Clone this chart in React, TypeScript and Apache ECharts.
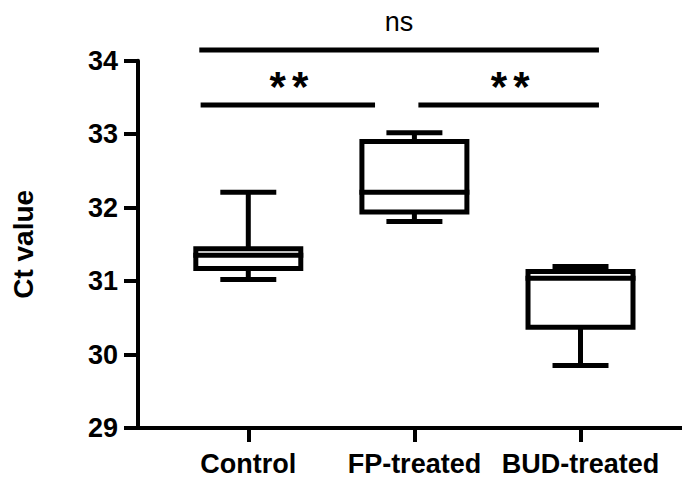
import React, { useEffect, useRef } from "react";
import * as echarts from "echarts";

// ---- data ----
const categories = ["Control", "FP-treated", "BUD-treated"];
// [min, Q1, median, Q3, max]
const controlBox = [31.02, 31.17, 31.35, 31.44, 32.21];
const fpBox = [31.81, 31.94, 32.21, 32.9, 33.02];
const budBox = [29.85, 30.37, 31.04, 31.13, 31.2];
const yTicks = [29, 30, 31, 32, 33, 34];
const sigLabels = ["ns", "**", "**"];

const FONT = '"Liberation Sans", Arial, sans-serif';

export default function App() {
  const ref = useRef<HTMLDivElement>(null);
  useEffect(() => {
    if (!ref.current) return;
    const chart = echarts.init(ref.current, undefined, { renderer: "svg" });
    const boxes = [controlBox, fpBox, budBox].map((b, i) => [i + 1, ...b]);
    // annotation geometry in data coordinates: [xStart, xEnd, yBar, xLabel, yLabel]
    const sigGeom = [
      [0.705, 3.111, 34.146, 1.907, 34.522],
      [0.713, 1.763, 33.397, 1.245, 33.642],
      [2.024, 3.111, 33.397, 2.576, 33.642],
    ];
    const boxW = 0.632;
    const capW = 0.337;
    const option: any = {
      animation: false,
      backgroundColor: "#fff",
      grid: { left: 138, right: 0, top: 60.7, bottom: 48.3, containLabel: false },
      xAxis: {
        type: "value",
        min: 0.336,
        max: 3.611,
        splitLine: { show: false },
        axisLine: { show: true, onZero: false, lineStyle: { color: "#000", width: 4 } },
        axisTick: {
          show: true,
          customValues: [1, 2, 3],
          length: 14,
          lineStyle: { color: "#000", width: 4 },
        },
        axisLabel: {
          customValues: [1, 2, 3],
          formatter: (v: number) => categories[Math.round(v) - 1] ?? "",
          color: "#000",
          fontSize: 27,
          fontWeight: "bold",
          fontFamily: FONT,
          margin: 22,
        },
      },
      yAxis: {
        type: "value",
        min: yTicks[0],
        max: yTicks[yTicks.length - 1],
        interval: 1,
        splitLine: { show: false },
        axisLine: { show: true, lineStyle: { color: "#000", width: 4 } },
        axisTick: { show: true, length: 14, lineStyle: { color: "#000", width: 4 } },
        axisLabel: {
          color: "#000",
          fontSize: 27,
          fontWeight: "bold",
          fontFamily: FONT,
          margin: 20,
        },
        name: "Ct value",
        nameLocation: "middle",
        nameRotate: 90,
        nameGap: 101,
        nameTextStyle: { color: "#000", fontSize: 28, fontWeight: "bold", fontFamily: FONT },
      },
      series: [
        {
          type: "custom",
          clip: false,
          data: boxes,
          encode: { x: 0, y: [1, 2, 3, 4, 5] },
          renderItem: (params: any, api: any) => {
            const x = api.value(0);
            const pMin = api.coord([x, api.value(1)]);
            const pQ1 = api.coord([x, api.value(2)]);
            const pMed = api.coord([x, api.value(3)]);
            const pQ3 = api.coord([x, api.value(4)]);
            const pMax = api.coord([x, api.value(5)]);
            const bw = api.size([boxW, 0])[0];
            const cw = api.size([capW, 0])[0];
            const cx = pMed[0];
            const ls = { stroke: "#000", lineWidth: 5, fill: null };
            return {
              type: "group",
              children: [
                { type: "line", shape: { x1: cx, y1: pQ3[1], x2: cx, y2: pMax[1] }, style: ls },
                { type: "line", shape: { x1: cx, y1: pQ1[1], x2: cx, y2: pMin[1] }, style: ls },
                { type: "line", shape: { x1: cx - cw / 2, y1: pMax[1], x2: cx + cw / 2, y2: pMax[1] }, style: ls },
                { type: "line", shape: { x1: cx - cw / 2, y1: pMin[1], x2: cx + cw / 2, y2: pMin[1] }, style: ls },
                {
                  type: "rect",
                  shape: { x: cx - bw / 2, y: pQ3[1], width: bw, height: pQ1[1] - pQ3[1] },
                  style: { stroke: "#000", lineWidth: 5, fill: "#fff" },
                },
                {
                  type: "line",
                  shape: { x1: cx - bw / 2 - 2.5, y1: pMed[1], x2: cx + bw / 2 + 2.5, y2: pMed[1] },
                  style: ls,
                },
              ],
            };
          },
        },
        {
          type: "custom",
          clip: false,
          data: sigGeom,
          encode: { x: [0, 1, 3], y: [2, 4] },
          renderItem: (params: any, api: any) => {
            const i = params.dataIndex;
            const a = api.coord([api.value(0), api.value(2)]);
            const b = api.coord([api.value(1), api.value(2)]);
            const t = api.coord([api.value(3), api.value(4)]);
            const label = sigLabels[i];
            const isNs = label === "ns";
            const children: any[] = [
              {
                type: "line",
                shape: { x1: a[0], y1: a[1], x2: b[0], y2: b[1] },
                style: { stroke: "#000", lineWidth: 5 },
              },
            ];
            if (isNs) {
              children.push({
                type: "text",
                x: t[0],
                y: t[1],
                style: {
                  text: label,
                  fill: "#000",
                  fontSize: 27,
                  fontFamily: FONT,
                  textAlign: "center",
                  textVerticalAlign: "middle",
                },
              });
            } else {
              const chars = label.split("");
              const step = 22.5;
              chars.forEach((ch, k) => {
                children.push({
                  type: "text",
                  x: t[0] + (k - (chars.length - 1) / 2) * step,
                  y: t[1],
                  style: {
                    text: ch,
                    fill: "#000",
                    fontSize: 42,
                    fontWeight: "bold",
                    fontFamily: FONT,
                    textAlign: "center",
                    textVerticalAlign: "middle",
                  },
                });
              });
            }
            return { type: "group", children };
          },
        },
      ],
    };
    chart.setOption(option);
    return () => chart.dispose();
  }, []);
  return (
    <div
      ref={ref}
      style={{ position: "fixed", left: 0, top: 0, width: 682, height: 477, background: "#fff" }}
    />
  );
}
